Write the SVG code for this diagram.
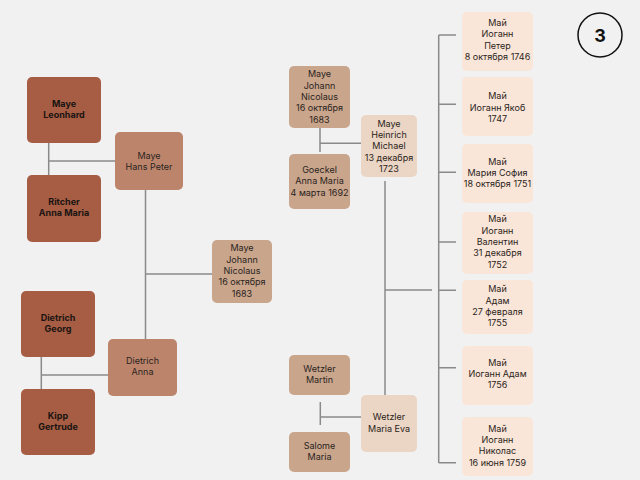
<svg xmlns="http://www.w3.org/2000/svg" width="640" height="480" viewBox="0 0 640 480">
<style>
text{font-family:Inter,"Noto Sans",sans-serif;font-size:9px;fill:#2a2420;text-anchor:middle}
.b text{font-weight:bold;fill:#1a1412}
.c1{fill:#A65D43}
.c2{fill:#BD846C}
.c3{fill:#C9A58C}
.c4{fill:#EBD5C4}
.c5{fill:#FAE6D8}
.ln{stroke:#8a8a8a;stroke-width:1.5;fill:none}
</style>
<rect width="640" height="480" fill="#F1F1F1"/>
<g id="connectors" class="ln">
<path d="M48.7 143V175M48.7 161H115"/>
<path d="M41.3 357V389M41.3 375H108"/>
<path d="M145.5 188V339M145.5 274H212"/>
<path d="M320 128V152M320 143.3H361"/>
<path d="M320.3 402V425M320.3 417H361"/>
<path d="M385 181V395M385 290H432"/>
<path d="M438.7 35V463M438.7 35H456M438.7 104.3H456M438.7 172.3H456M438.7 242H456M438.7 290.3H456M438.7 367.7H456M438.7 462.7H456"/>
</g>
<g id="leonhard" class="b"><rect class="c1" x="27" y="77" width="74" height="66" rx="5"/><text x="64" y="107">Maye</text><text x="64" y="118">Leonhard</text></g>
<g id="ritcher" class="b"><rect class="c1" x="27" y="175" width="74" height="67" rx="5"/><text x="64" y="205.3">Ritcher</text><text x="64" y="216.3">Anna Maria</text></g>
<g id="hanspeter"><rect class="c2" x="115" y="132" width="68" height="58" rx="5"/><text x="149" y="158.7">Maye</text><text x="149" y="169.7">Hans Peter</text></g>
<g id="georg" class="b"><rect class="c1" x="21" y="291" width="74" height="66" rx="5"/><text x="58" y="320.7">Dietrich</text><text x="58" y="332">Georg</text></g>
<g id="kipp" class="b"><rect class="c1" x="21" y="389" width="74" height="66" rx="5"/><text x="58" y="418.7">Kipp</text><text x="58" y="430">Gertrude</text></g>
<g id="dietrichanna"><rect class="c2" x="108" y="339" width="69" height="57" rx="5"/><text x="142.5" y="363.7">Dietrich</text><text x="142.5" y="374.7">Anna</text></g>
<g id="johann1"><rect class="c3" x="212" y="240" width="60" height="63" rx="5"/><text x="242" y="251.3">Maye</text><text x="242" y="262.6">Johann</text><text x="242" y="273.9">Nicolaus</text><text x="242" y="285.2">16 октября</text><text x="242" y="296.5">1683</text></g>
<g id="johann2"><rect class="c3" x="289" y="66" width="61" height="62" rx="5"/><text x="319.5" y="77.3">Maye</text><text x="319.5" y="88.6">Johann</text><text x="319.5" y="99.9">Nicolaus</text><text x="319.5" y="111.2">16 октября</text><text x="319.5" y="122.5">1683</text></g>
<g id="goeckel"><rect class="c3" x="289" y="154" width="61" height="55" rx="5"/><text x="319.5" y="173">Goeckel</text><text x="319.5" y="184.3">Anna Maria</text><text x="319.5" y="195.6">4 марта 1692</text></g>
<g id="heinrich"><rect class="c4" x="361" y="115" width="56" height="62" rx="5"/><text x="389" y="126.7">Maye</text><text x="389" y="138">Heinrich</text><text x="389" y="149.3">Michael</text><text x="389" y="160.6">13 декабря</text><text x="389" y="171.9">1723</text></g>
<g id="martin"><rect class="c3" x="289" y="355" width="61" height="40" rx="5"/><text x="319.5" y="372">Wetzler</text><text x="319.5" y="383.3">Martin</text></g>
<g id="salome"><rect class="c3" x="289" y="432" width="61" height="40" rx="5"/><text x="319.5" y="449">Salome</text><text x="319.5" y="460.3">Maria</text></g>
<g id="mariaeva"><rect class="c4" x="361" y="395" width="56" height="57" rx="5"/><text x="389" y="420.3">Wetzler</text><text x="389" y="431.6">Maria Eva</text></g>
<g id="child1"><rect class="c5" x="462" y="12" width="71" height="59" rx="5"/><text x="497.5" y="26">Май</text><text x="497.5" y="37.3">Иоганн</text><text x="497.5" y="48.6">Петер</text><text x="497.5" y="59.9">8 октября 1746</text></g>
<g id="child2"><rect class="c5" x="462" y="77" width="71" height="59" rx="5"/><text x="497.5" y="99.4">Май</text><text x="497.5" y="110.7">Иоганн Якоб</text><text x="497.5" y="122">1747</text></g>
<g id="child3"><rect class="c5" x="462" y="144" width="71" height="59" rx="5"/><text x="497.5" y="164.7">Май</text><text x="497.5" y="176">Мария София</text><text x="497.5" y="187.3">18 октября 1751</text></g>
<g id="child4"><rect class="c5" x="462" y="212" width="71" height="62" rx="5"/><text x="497.5" y="222.3">Май</text><text x="497.5" y="233.6">Иоганн</text><text x="497.5" y="244.9">Валентин</text><text x="497.5" y="256.2">31 декабря</text><text x="497.5" y="267.5">1752</text></g>
<g id="child5"><rect class="c5" x="462" y="280" width="71" height="54" rx="5"/><text x="497.5" y="292.3">Май</text><text x="497.5" y="303.6">Адам</text><text x="497.5" y="314.9">27 февраля</text><text x="497.5" y="326.2">1755</text></g>
<g id="child6"><rect class="c5" x="462" y="346" width="71" height="59" rx="5"/><text x="497.5" y="365.7">Май</text><text x="497.5" y="377">Иоганн Адам</text><text x="497.5" y="388.3">1756</text></g>
<g id="child7"><rect class="c5" x="462" y="417" width="71" height="59" rx="5"/><text x="497.5" y="431.7">Май</text><text x="497.5" y="443">Иоганн</text><text x="497.5" y="454.3">Николас</text><text x="497.5" y="465.6">16 июня 1759</text></g>
<g id="badge"><circle cx="600" cy="35" r="22" fill="none" stroke="#111" stroke-width="1.5"/><text x="600" y="41.5" style="font-size:18px;font-weight:bold;fill:#111">3</text></g>
</svg>
